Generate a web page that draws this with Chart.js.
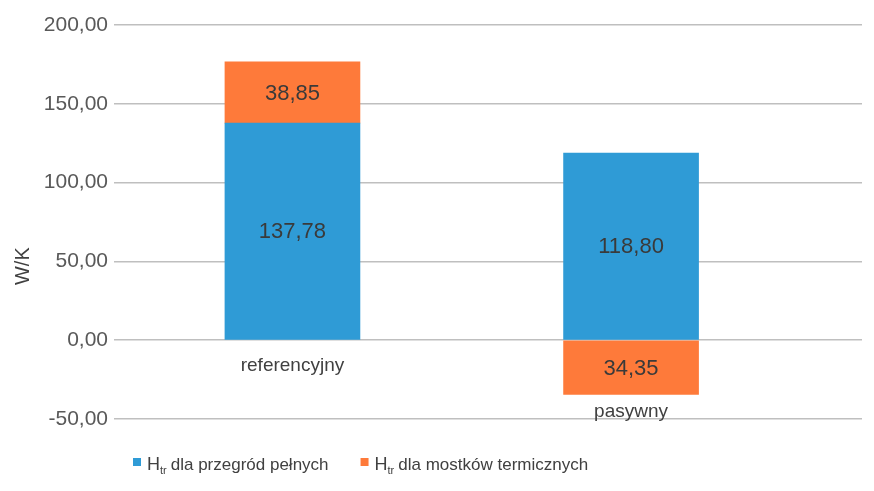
<!DOCTYPE html>
<html><head><meta charset="utf-8">
<script src="https://cdn.jsdelivr.net/npm/chart.js@4/dist/chart.umd.min.js"></script>
<style>html,body{margin:0;padding:0;background:#fff}#wrap{width:874px;height:491px}</style>
</head><body><div id="wrap"><canvas id="c" width="874" height="491"></canvas></div>
<script>
const categories = ['referencyjny', 'pasywny'];
const przegrody = [137.78, 118.80];
const mostki = [38.85, -34.35];
const seriesNames = ['dla przegród pełnych', 'dla mostków termicznych'];
const seriesPrefix = 'H';
const seriesSub = 'tr';
const yTicks = { min: -50, max: 200, step: 50 };
const yTitle = 'W/K';

const FONT = '"Liberation Sans", Arial, sans-serif';
const BLUE = '#2F9BD6';
const ORANGE = '#FE7A3A';
const fmt = v => Math.abs(v).toFixed(2).replace('.', ',');

const labelsPlugin = {
  id: 'labels',
  afterDatasetsDraw(chart) {
    const ctx = chart.ctx;
    const y = chart.scales.y;
    ctx.save();
    ctx.textAlign = 'center';
    ctx.textBaseline = 'middle';
    // value labels
    chart.data.datasets.forEach((ds, di) => {
      const meta = chart.getDatasetMeta(di);
      meta.data.forEach((bar, i) => {
        const cy = (bar.y + bar.base) / 2;
        ctx.fillStyle = '#3A3A3A';
        ctx.font = '22px ' + FONT;
        ctx.fillText(fmt(ds.data[i].y), bar.x, cy + 1);
      });
    });
    // category labels
    categories.forEach((c, i) => {
      const low = Math.min(0, przegrody[i], mostki[i] < 0 ? mostki[i] : 0);
      const x = chart.scales.x.getPixelForValue(i);
      const yy = Math.max(y.getPixelForValue(0) + 26, y.getPixelForValue(low) + 17);
      ctx.fillStyle = '#404040';
      ctx.font = '19px ' + FONT;
      ctx.fillText(c, x, yy);
    });
    // axis title
    ctx.save();
    ctx.translate(chart.chartArea.left - 91, y.getPixelForValue(47));
    ctx.rotate(-Math.PI / 2);
    ctx.font = '20px ' + FONT;
    ctx.fillStyle = '#404040';
    ctx.fillText(yTitle, 0, 0);
    ctx.restore();
    // legend
    const ly = 463;
    let lx = 133;
    const colors = [BLUE, ORANGE];
    ctx.textAlign = 'left';
    ctx.textBaseline = 'alphabetic';
    seriesNames.forEach((n, i) => {
      ctx.fillStyle = colors[i];
      ctx.fillRect(lx, ly - 5, 8, 8);
      lx += 14;
      ctx.fillStyle = '#404040';
      ctx.font = '18px ' + FONT;
      ctx.fillText(seriesPrefix, lx, ly + 7);
      lx += ctx.measureText(seriesPrefix).width;
      ctx.font = '11px ' + FONT;
      ctx.fillText(seriesSub, lx, ly + 11);
      lx += ctx.measureText(seriesSub).width + 4;
      ctx.font = '17px ' + FONT;
      ctx.fillText(n, lx, ly + 7);
      lx += ctx.measureText(n).width + 32;
    });
    ctx.restore();
  }
};

new Chart(document.getElementById('c'), {
  type: 'bar',
  data: {
    datasets: [
      { label: seriesPrefix + seriesSub + ' ' + seriesNames[0], data: przegrody.map((v, i) => ({ x: i, y: v })), backgroundColor: BLUE, stack: 's', barThickness: 135 },
      { label: seriesPrefix + seriesSub + ' ' + seriesNames[1], data: mostki.map((v, i) => ({ x: i, y: v })), backgroundColor: ORANGE, stack: 's', barThickness: 135 }
    ]
  },
  options: {
    responsive: false,
    animation: false,
    layout: { padding: { top: 25, right: 12, bottom: 72, left: 0 } },
    plugins: { legend: { display: false }, tooltip: { enabled: false } },
    scales: {
      x: { type: 'linear', display: false, offset: false, min: -0.527, max: 1.682, grid: { display: false } },
      y: {
        stacked: true,
        min: yTicks.min, max: yTicks.max,
        afterFit(s) { s.width = 114; },
        border: { display: false },
        grid: { color: '#BFBFBF', lineWidth: 1.5, drawTicks: false },
        ticks: { stepSize: yTicks.step, padding: 6, color: '#595959', font: { family: FONT, size: 21 }, callback: v => (v < 0 ? '-' : '') + fmt(v) }
      }
    }
  },
  plugins: [labelsPlugin]
});
</script></body></html>
